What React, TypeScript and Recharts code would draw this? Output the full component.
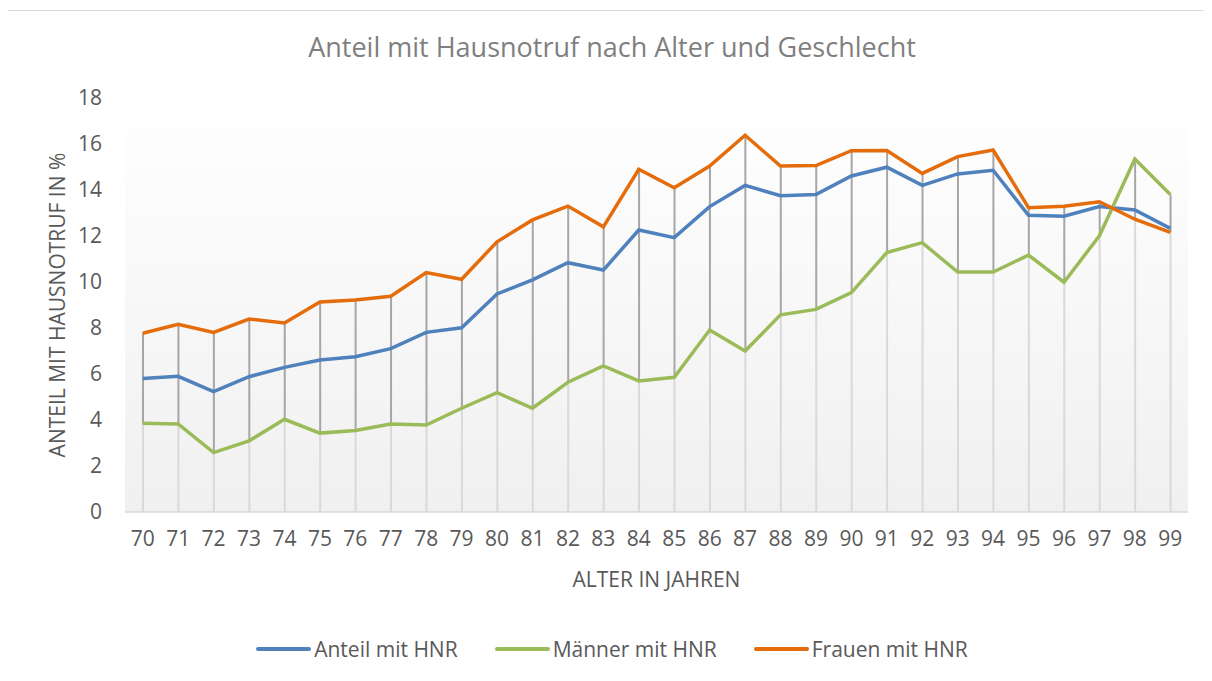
import React from 'react';
import { ComposedChart, Line, Bar, XAxis, YAxis, CartesianGrid } from 'recharts';

const ages = [70, 71, 72, 73, 74, 75, 76, 77, 78, 79, 80, 81, 82, 83, 84, 85, 86, 87, 88, 89, 90, 91, 92, 93, 94, 95, 96, 97, 98, 99];

const anteil = [5.8, 5.9, 5.23, 5.88, 6.29, 6.61, 6.75, 7.1, 7.81, 8.01, 9.48, 10.09, 10.84, 10.52, 12.26, 11.93, 13.28, 14.2, 13.75, 13.8, 14.61, 14.99, 14.2, 14.7, 14.86, 12.9, 12.86, 13.28, 13.13, 12.33];
const maenner = [3.86, 3.83, 2.58, 3.09, 4.03, 3.43, 3.54, 3.83, 3.78, 4.51, 5.19, 4.51, 5.64, 6.35, 5.7, 5.86, 7.91, 7.0, 8.57, 8.81, 9.54, 11.28, 11.71, 10.43, 10.43, 11.17, 9.99, 12.01, 15.35, 13.8];
const frauen = [7.77, 8.16, 7.81, 8.39, 8.22, 9.13, 9.22, 9.38, 10.41, 10.12, 11.75, 12.7, 13.3, 12.4, 14.9, 14.1, 15.04, 16.38, 15.04, 15.06, 15.71, 15.72, 14.72, 15.45, 15.74, 13.23, 13.29, 13.49, 12.73, 12.16];

const yTicks = [0, 2, 4, 6, 8, 10, 12, 14, 16, 18];

const seriesInfo = [
  { key: 'anteil', name: 'Anteil mit HNR', color: '#4f81bd' },
  { key: 'maenner', name: 'Männer mit HNR', color: '#9bbb59' },
  { key: 'frauen', name: 'Frauen mit HNR', color: '#e46c0a' },
];

// drop lines from lowest point to axis, high-low lines between lowest and highest
const data = ages.map((age, i) => {
  const lo = Math.min(anteil[i], maenner[i], frauen[i]);
  const hi = Math.max(anteil[i], maenner[i], frauen[i]);
  return {
    age: String(age),
    anteil: anteil[i],
    maenner: maenner[i],
    frauen: frauen[i],
    drop: lo,
    hilo: hi - lo,
  };
});

const FONT = '"Open Sans", sans-serif';
const TEXT = '#595959';

function YLabel(props: any) {
  const vb = props.viewBox || {};
  const cy = vb.y + vb.height / 2;
  return (
    <text x={50} y={cy} transform={`rotate(-90, 50, ${cy})`} textAnchor="middle" dominantBaseline="central"
      fill={TEXT} fontSize={21} fontFamily={FONT}>
      ANTEIL MIT HAUSNOTRUF IN %
    </text>
  );
}

export default function App() {
  return (
    <div style={{ position: 'relative', left: -1, top: 2, width: 1210, height: 680, fontFamily: FONT }}>
      <div style={{ position: 'absolute', left: 0, top: 0, width: 1210, height: 680, border: '1px solid #d9d9d9', boxSizing: 'border-box' }} />
      <div style={{ position: 'absolute', left: 0, width: 1210, top: 18, textAlign: 'center', fontSize: 27, color: '#7f7f7f' }}>
        Anteil mit Hausnotruf nach Alter und Geschlecht
      </div>
      <div style={{ position: 'absolute', left: 0, top: 0 }}>
        <ComposedChart width={1210} height={680} data={data} margin={{ top: 88, right: 29, bottom: 148, left: 0 }} barCategoryGap={0}>
          <defs>
            <linearGradient id="plotBg" x1="0" y1="0" x2="0" y2="1">
              <stop offset="0%" stopColor="#ffffff" />
              <stop offset="100%" stopColor="#f0f0f0" />
            </linearGradient>
          </defs>
          <CartesianGrid horizontal={false} vertical={false} fill="url(#plotBg)" />
          <XAxis dataKey="age" height={30} tickLine={false} axisLine={{ stroke: '#d9d9d9', strokeWidth: 1.5 }}
            tick={{ fill: TEXT, fontSize: 21, fontFamily: FONT }} tickMargin={13} interval={0} />
          <YAxis width={118} domain={[0, 18]} ticks={yTicks} tickLine={false} axisLine={false}
            tick={{ fill: TEXT, fontSize: 21, fontFamily: FONT }} tickMargin={17} label={<YLabel />} />
          <Bar dataKey="drop" stackId="v" barSize={2} fill="#d9d9d9" isAnimationActive={false} />
          <Bar dataKey="hilo" stackId="v" barSize={2} fill="#a6a6a6" isAnimationActive={false} />
          {seriesInfo.map((s) => (
            <Line key={s.key} type="linear" dataKey={s.key} name={s.name} stroke={s.color} strokeWidth={3.5}
              dot={false} activeDot={false} isAnimationActive={false} />
          ))}
        </ComposedChart>
      </div>
      <div style={{ position: 'absolute', left: 118, width: 1063, top: 555, textAlign: 'center', fontSize: 21, color: TEXT }}>
        ALTER IN JAHREN
      </div>
      <div style={{ position: 'absolute', left: 0, width: 1210, top: 625, display: 'flex', justifyContent: 'center', gap: 37, fontSize: 21, color: TEXT }}>
        {seriesInfo.map((s) => (
          <div key={s.key} style={{ display: 'flex', alignItems: 'center' }}>
            <span style={{ display: 'inline-block', width: 55, height: 4, background: s.color, borderRadius: 2, marginRight: 3 }} />
            <span>{s.name}</span>
          </div>
        ))}
      </div>
    </div>
  );
}
